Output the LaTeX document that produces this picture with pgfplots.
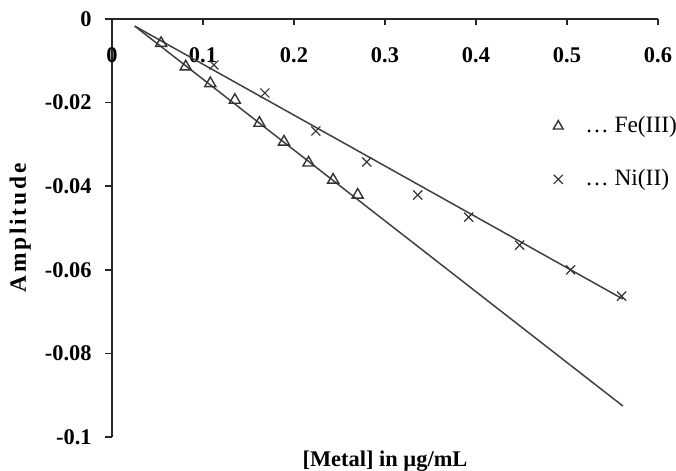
\documentclass[border=0pt]{standalone}
\usepackage{fontspec}
\setmainfont{Liberation Serif}
\newfontfamily\ylabfont[LetterSpace=12]{Liberation Serif}
\usepackage{pgfplots}
\pgfplotsset{compat=1.18}
\pgfplotsset{mylegimg/.style={legend image code/.code={\path[draw=none,fill=none] (0bp,0bp) -- (15.5bp,0bp); \draw[##1] plot coordinates {(4bp,0bp)};}}}
\begin{document}
\begin{tikzpicture}
\begin{axis}[
  at={(0,0)}, anchor=south west,
  scale only axis, width=273bp, height=209bp,
  xmin=0, xmax=0.6, ymin=-0.1, ymax=0,
  axis x line*=top, axis y line*=left,
  axis line style={-, line width=0.8bp, black!85},
  xtick={0,0.1,0.2,0.3,0.4,0.5,0.6},
  xticklabels={0,0.1,0.2,0.3,0.4,0.5,0.6},
  ytick={-0.1,-0.08,-0.06,-0.04,-0.02,0},
  yticklabels={-0.1,-0.08,-0.06,-0.04,-0.02,0},
  tick align=inside, major tick length=3.25bp,
  tick style={black!85, line width=0.8bp},
  ytick style={xshift=-3.25bp},
  xticklabel style={anchor=center, yshift=-18bp, inner sep=0pt, font=\bfseries\fontsize{11.25}{13}\selectfont},
  yticklabel style={anchor=east, xshift=-10bp, inner sep=0pt, font=\bfseries\fontsize{11.25}{13}\selectfont},
  xlabel={[Metal] in µg/mL},
  xlabel style={at={(axis description cs:0.5,0)}, anchor=north, inner sep=0pt, yshift=-7bp, font=\bfseries\fontsize{11.25}{13}\selectfont},
  ylabel={Amplitude},
  ylabel style={at={(axis description cs:-0.148,0.5)}, anchor=south, inner sep=0pt, font=\ylabfont\bfseries\fontsize{11.75}{13}\selectfont},
  legend style={draw=none, fill=none, at={(axis description cs:0.802,0.68)}, anchor=west, inner sep=0pt, row sep=13bp, font=\fontsize{11.75}{13}\selectfont},
  legend cell align=left,
]
\addplot[forget plot, black!75, line width=0.75bp] coordinates {(0.025,-0.0017) (0.5615,-0.0926)};
\addplot[forget plot, black!75, line width=0.75bp] coordinates {(0.025,-0.0017) (0.5615,-0.067)};
\addplot[only marks, mylegimg, mark=triangle, mark size=3.2bp, black!80, mark options={line width=0.7bp}, legend image post style={mark size=2.8bp}] coordinates {
(0.054,-0.0058) (0.081,-0.0114) (0.108,-0.0154) (0.135,-0.0194) (0.162,-0.0249)
(0.189,-0.0294) (0.216,-0.0344) (0.243,-0.0385) (0.270,-0.0421)};
\addlegendentry{\ldots\ Fe(III)}
\addplot[only marks, mylegimg, mark=x, mark size=3.2bp, black!80, mark options={line width=0.6bp}, legend image post style={mark size=3.2bp}] coordinates {
(0.112,-0.0110) (0.168,-0.0177) (0.224,-0.0268) (0.280,-0.0342) (0.336,-0.0421)
(0.392,-0.0474) (0.448,-0.0541) (0.504,-0.0600) (0.560,-0.0663)};
\addlegendentry{\ldots\ Ni(II)}
\end{axis}
\pgfresetboundingbox
\path[use as bounding box] (-56bp,-17bp) rectangle (282bp,218.5bp);
\end{tikzpicture}
\end{document}
